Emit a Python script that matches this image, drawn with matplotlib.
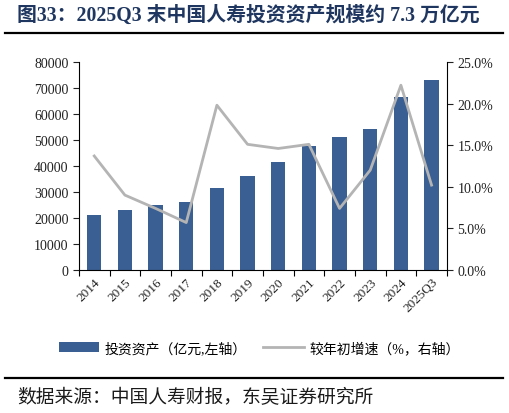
import numpy as np
import matplotlib
matplotlib.use('Agg')
import matplotlib.pyplot as plt
from matplotlib.ticker import FuncFormatter

plt.rcParams['font.family'] = ['Liberation Serif', 'Noto Sans CJK SC', 'DejaVu Sans']

years = ['2014', '2015', '2016', '2017', '2018', '2019', '2020', '2021',
         '2022', '2023', '2024', '2025Q3']
assets = [21200, 23100, 24900, 26200, 31400, 36100, 41400, 47500,
          51000, 54400, 66400, 73200]
growth = [13.7, 9.0, 7.4, 5.7, 19.8, 15.1, 14.6, 15.1, 7.4, 12.0, 22.2, 10.2]

bar_c = '#3a5f93'
line_c = '#b4b4b4'
navy = '#1f3760'

fig = plt.figure(figsize=(5.09, 4.14), dpi=100)
ax = fig.add_axes([0.155, 0.3454, 0.723, 0.5026])
x = np.arange(len(years))
bars = ax.bar(x, assets, width=0.47, color=bar_c)
ax.set_xlim(-0.5, len(years) - 0.5)
ax.set_ylim(0, 80000)
ax.set_yticks(np.arange(0, 80001, 10000))

ax2 = ax.twinx()
ln, = ax2.plot(x, growth, color=line_c, lw=2)
ax2.set_ylim(0, 25)
ax2.set_yticks(np.arange(0, 25.1, 5))
ax2.yaxis.set_major_formatter(FuncFormatter(lambda v, p: f'{v:.1f}%'))

for a in (ax, ax2):
    a.spines['top'].set_visible(False)
    a.tick_params(labelsize=10, direction='out', length=4, width=0.8, colors='#222222')
ax.spines['right'].set_visible(False)
ax2.spines['left'].set_visible(False)
ax2.spines['bottom'].set_visible(False)

ax.set_xticks(x)
ax.set_xticklabels(years, rotation=45, ha='right', rotation_mode='anchor', fontsize=9.5)
ax.tick_params(axis='x', length=0, pad=4)
ax.set_xticks(np.arange(-0.5, len(years)), minor=True)
ax.tick_params(axis='x', which='minor', length=4, width=0.8, direction='out')

fig.legend([bars, ln], ['投资资产（亿元,左轴）', '较年初增速（%，右轴）'],
           loc='center', bbox_to_anchor=(0.509, 0.157), ncol=2, frameon=False,
           fontsize=10, handlelength=2.9, columnspacing=1.2, handletextpad=0.4)

fig.text(0.033, 0.963, '图33：2025Q3 末中国人寿投资资产规模约 7.3 万亿元',
         fontsize=14.3, fontweight='bold', color=navy, va='center')
fig.add_artist(plt.Line2D([0.01, 0.988], [0.917, 0.917], color='black', lw=1.6))
fig.add_artist(plt.Line2D([0.01, 0.988], [0.085, 0.085], color='black', lw=1.6))
fig.text(0.033, 0.039, '数据来源：中国人寿财报，东吴证券研究所', fontsize=13.5,
         color='#1a1a1a', va='center')

fig.savefig('out.png', dpi=100)
